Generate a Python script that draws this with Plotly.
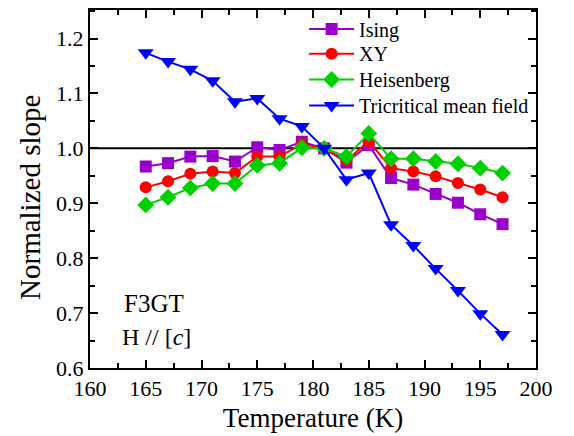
import plotly.graph_objects as go

temps = [165, 167, 169, 171, 173, 175, 177, 179, 181, 183, 185, 187, 189, 191, 193, 195, 197]
ising = [0.967, 0.973, 0.985, 0.986, 0.976, 1.002, 0.997, 1.012, 1.000, 0.974, 1.006, 0.946, 0.934, 0.917, 0.901, 0.880, 0.862]
xy = [0.929, 0.940, 0.954, 0.958, 0.955, 0.985, 0.985, 1.008, 1.000, 0.978, 1.013, 0.964, 0.958, 0.949, 0.937, 0.925, 0.911]
heis = [0.897, 0.911, 0.928, 0.936, 0.936, 0.969, 0.973, 1.001, 1.000, 0.985, 1.027, 0.981, 0.981, 0.976, 0.972, 0.964, 0.955]
tricrit = [1.174, 1.158, 1.144, 1.123, 1.085, 1.091, 1.054, 1.040, 1.000, 0.943, 0.955, 0.861, 0.823, 0.781, 0.741, 0.699, 0.661]

series = [
    ("Ising", ising, "#9900cc", "square", 12),
    ("XY", xy, "#ff0000", "circle", 12),
    ("Heisenberg", heis, "#00d000", "diamond", 13),
    ("Tricritical mean field", tricrit, "#0000ff", "triangle-down", 14),
]
legend_ids = ["legend", "legend2", "legend3", "legend4"]
legend_y = [0.947, 0.878, 0.806, 0.733]

font = "Liberation Serif, Times New Roman, serif"

fig = go.Figure()
for (name, vals, color, sym, sz), lid in zip(series, legend_ids):
    fig.add_trace(go.Scatter(
        x=temps, y=vals, name=name, mode="lines+markers",
        line=dict(color=color, width=2),
        marker=dict(symbol=sym, size=sz, color=color, line=dict(width=0)),
        legend=lid,
    ))

fig.add_shape(type="line", xref="paper", yref="y", x0=0, x1=1, y0=1.0, y1=1.0,
              line=dict(color="black", width=2), layer="below")

axis_common = dict(
    showline=True, linecolor="black", linewidth=2, mirror="allticks",
    ticks="inside", ticklen=8, tickwidth=2, tickcolor="black",
    showgrid=False, zeroline=False,
    tickfont=dict(family=font, size=22, color="black"),
)

fig.update_xaxes(
    range=[160, 200], tick0=160, dtick=5,
    minor=dict(ticks="inside", ticklen=5, tickwidth=2, tickcolor="black", dtick=2.5, showgrid=False),
    title=dict(text="Temperature (K)", font=dict(family=font, size=27, color="black"), standoff=8),
    **axis_common,
)
fig.update_yaxes(
    range=[0.6, 1.252], tick0=0.6, dtick=0.1, tickformat=".1f",
    minor=dict(ticks="inside", ticklen=5, tickwidth=2, tickcolor="black", dtick=0.05, showgrid=False),
    **axis_common,
)

fig.add_annotation(x=-0.1345, y=0.475, xref="paper", yref="paper", text="Normalized slope",
                   showarrow=False, textangle=-90, xanchor="center", yanchor="middle",
                   font=dict(family=font, size=29, color="black"))
fig.add_annotation(x=0.072, y=0.181, xref="paper", yref="paper", text="F3GT", showarrow=False,
                   xanchor="left", yanchor="middle", font=dict(family=font, size=25, color="black"))
fig.add_annotation(x=0.068, y=0.086, xref="paper", yref="paper", text="H // [<i>c</i>]", showarrow=False,
                   xanchor="left", yanchor="middle", font=dict(family=font, size=24, color="black"))

legend_common = dict(x=0.48, xanchor="left", yanchor="middle", bgcolor="rgba(0,0,0,0)",
                     font=dict(family=font, size=20, color="black"), itemwidth=45)
layout_legends = {lid: dict(y=ly, **legend_common) for lid, ly in zip(legend_ids, legend_y)}

fig.update_layout(
    width=574, height=436,
    margin=dict(l=90, r=38, t=8, b=68),
    paper_bgcolor="white", plot_bgcolor="white",
    font=dict(family=font, color="black"),
    showlegend=True,
    **layout_legends,
)

fig.write_html("out.html")
